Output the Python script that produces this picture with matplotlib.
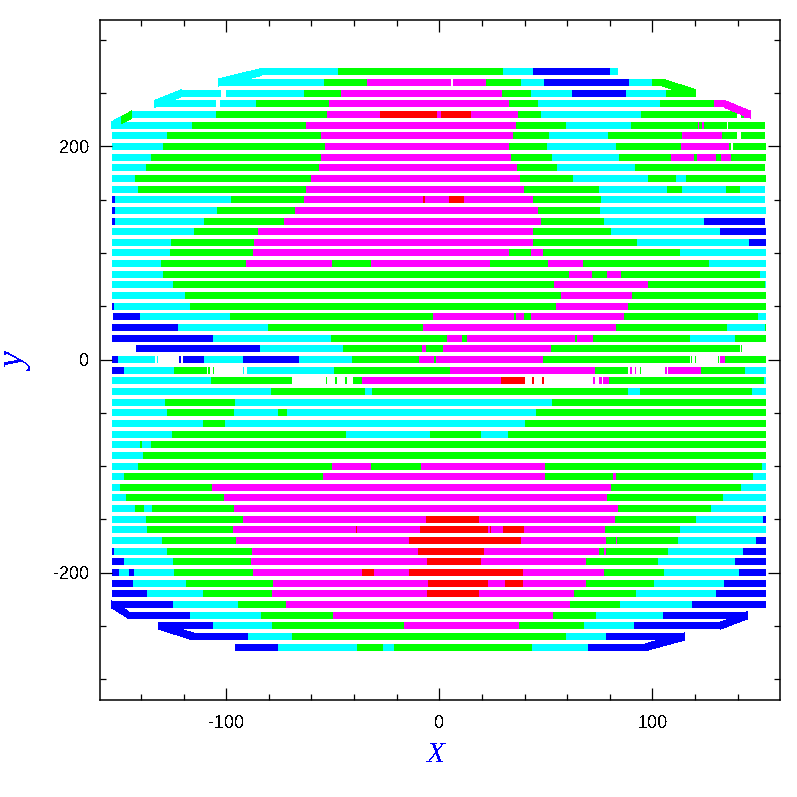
import matplotlib
matplotlib.use('Agg')
from matplotlib import pyplot as plt
from matplotlib.ticker import MultipleLocator

plt.rcParams['axes.unicode_minus'] = False
plt.rcParams['text.antialiased'] = False

# one entry per scan row, top to bottom
row_y = [270, 260, 250, 240, 230, 220, 210, 200, 190, 180, 170, 160, 150, 140,
         130, 120, 110, 100, 90, 80, 70, 60, 50, 40, 30, 20, 10, 0,
         -10, -20, -30, -40, -50, -60, -70, -80, -90, -100, -110, -120, -130, -140,
         -150, -160, -170, -180, -190, -200, -210, -220, -230, -240, -250, -260, -270]

# colour letters per stretch, w = nothing measured
row_colors = [
    "cgcbc", "cgmwmgcbcg", "cwcgmgcbcg", "gcwcgmgcgm", "cgmrmrmgcgwgm",
    "cgmgcgmgmgwg", "cgmgcgmgwg", "cgmgcgmgwg", "cgmgcgmgmgmg", "cgmgcg",
    "cgmgcgcg", "cgmgcgcgc", "bcgmrmrmgc", "bcgmgc", "bcgmgcb",
    "cgmgcb", "cgmgcb", "cgmgmgc", "cgmgmgmgc", "cgmgmgc",
    "cgmgc", "cgmg", "bcgmg", "bcgmgmgmgc", "bcgmgcg",
    "bcgmgmgmgcg", "bcgmgmgwg", "bcwcwbwbcbcgmgmgwgwgwgwmg",
    "bcgwgwgwcwcgmgwmwmwgwmwmgc", "cgwgwgwgwgmrwrwrwmwmwmgc",
    "cgcgcgc", "cgcg", "cgcgcg", "cgcg", "cgcgcg", "cgcg", "cg",
    "cgmgmgc", "cgmgmgc", "cgmgc", "cgmgc", "cgcgmgc",
    "cgmrmgcb", "cgmrmrmrmrmgc", "cgmrmgmgcb", "bcgmrmgmgcb", "bcgmrmgcb",
    "bcbcgmrmrmgcb", "bcgmrmrmgcb", "bcgmrmgcb", "bcgmgcb", "bcgmgcb",
    "bcgmgcb", "bcgcb", "bcgcgcb",
]

# x limits of those stretches
row_edges = [
    [-82.8, -47.0, 30.5, 44.6, 80.7, 84.5],
    [-103.1, -53.5, -33.3, 6.1, 7.0, 22.5, 39.0, 49.8, 89.7, 100.5, 105.2],
    [-120.4, -101.9, -99.5, -62.9, -45.6, 30.0, 43.7, 62.9, 88.3, 107.0, 121.1],
    [-133.3, -132.9, -104.2, -102.4, -85.5, -51.2, 33.3, 46.9, 104.2, 129.6, 134.3],
    [-143.7, -104.2, -52.1, -27.2, -0.5, 1.4, 15.5, 37.5, 48.3, 95.3, 140.3, 142.2, 143.7, 146.5],
    [-153.1, -115.5, -62.0, 36.6, 60.1, 90.6, 122.1, 122.5, 123.9, 124.8, 135.7, 136.1, 153.5],
    [-153.1, -127.2, -54.9, 35.2, 52.1, 79.8, 114.5, 133.3, 140.3, 142.2, 153.5],
    [-153.1, -129.0, -53.1, 33.3, 51.1, 83.5, 114.0, 136.6, 137.5, 138.5, 153.9],
    [-153.1, -134.8, -54.9, 34.2, 53.5, 84.9, 109.3, 120.1, 121.6, 130.5, 132.8, 137.5, 153.9],
    [-153.1, -137.1, -55.9, 37.0, 55.8, 92.4, 153.5],
    [-153.1, -142.3, -59.6, 38.5, 63.3, 98.5, 111.7, 116.4, 153.9],
    [-153.1, -140.9, -62.0, 40.3, 75.5, 107.5, 114.5, 135.2, 141.7, 153.5],
    [-153.1, -151.7, -97.2, -62.9, -7.1, -6.1, 5.1, 12.2, 44.6, 76.5, 153.5],
    [-153.1, -151.7, -103.8, -67.2, 46.9, 76.0, 153.9],
    [-153.1, -151.7, -109.9, -72.3, 48.3, 77.9, 124.8, 153.5],
    [-153.1, -114.6, -84.5, 44.6, 81.2, 132.4, 153.9],
    [-153.1, -125.4, -86.4, 44.6, 93.4, 146.0, 153.9],
    [-153.1, -125.8, -86.9, 33.3, 43.7, 49.3, 113.6, 153.9],
    [-153.1, -130.1, -90.2, -49.8, -31.5, 24.4, 51.6, 68.0, 127.2, 153.9],
    [-153.1, -129.1, 61.5, 72.3, 79.3, 85.9, 151.1, 153.9],
    [-153.1, -124.4, 54.4, 98.5, 153.5, 153.9],
    [-153.1, -118.8, 57.7, 91.0, 153.9],
    [-153.1, -152.1, -116.4, 55.4, 89.2, 153.9],
    [-152.6, -139.9, -97.7, -2.4, 35.6, 36.6, 40.3, 43.7, 87.3, 150.2, 153.9],
    [-153.1, -122.1, -79.8, -7.1, 83.5, 135.6, 153.5, 153.9],
    [-153.1, -105.6, -50.2, 4.2, 11.2, 13.6, 64.3, 65.2, 72.7, 118.3, 139.4, 153.9],
    [-141.8, -83.6, -44.6, -7.5, -5.7, 2.3, 53.0, 141.7, 142.2, 142.7],
    [-153.1, -150.2, -132.9, -131.9, -131.5, -121.6, -120.7, -119.7, -109.9, -91.6, -65.3, -40.4,
     -8.9, -1.9, -1.0, 49.3, 118.3, 118.8, 119.2, 120.6, 121.1, 131.5, 131.9, 132.4, 134.7, 153.9],
    [-153.1, -147.4, -124.0, -108.5, -108.0, -107.1, -105.6, -105.2, -91.6, -91.1, -89.7, -48.8, 5.6,
     73.7, 89.2, 90.1, 91.1, 92.4, 92.9, 94.8, 95.3, 106.6, 107.5, 108.0, 123.4, 144.1, 153.9],
    [-153.1, -106.6, -68.6, -52.6, -52.1, -48.4, -47.4, -43.7, -42.7, -39.9, -35.7, 29.5, 40.8,
     44.1, 45.0, 48.8, 49.7, 72.7, 73.7, 75.5, 77.0, 77.4, 80.2, 153.0, 153.9],
    [-153.1, -78.4, -34.3, -31.0, 89.2, 94.8, 147.4, 153.9],
    [-153.1, -128.2, -95.3, 53.5, 153.9],
    [-153.1, -127.2, -95.8, -75.1, -70.9, 46.0, 153.9],
    [-153.1, -110.3, -100.0, 40.8, 153.9],
    [-153.1, -124.9, -43.2, -3.8, 20.1, 32.8, 153.9],
    [-153.1, -139.9, -139.0, -134.8, 153.9],
    [-153.1, -138.5, 153.9],
    [-153.1, -140.9, -49.8, -31.5, -8.0, 50.2, 152.1, 153.9],
    [-153.1, -147.4, -54.0, 50.2, 82.1, 83.5, 147.8, 153.9],
    [-153.1, -149.3, -106.1, 81.2, 142.2, 153.9],
    [-153.1, -146.5, -100.5, 79.3, 133.8, 153.9],
    [-153.1, -142.3, -138.0, -134.3, -95.8, 84.5, 128.1, 153.9],
    [-153.1, -137.1, -91.6, -5.7, 19.2, 83.1, 121.1, 152.5, 153.9],
    [-153.1, -136.6, -96.3, -38.5, -38.0, -8.5, 23.4, 24.4, 24.8, 30.5, 40.3, 78.4, 113.6, 153.9],
    [-153.1, -129.6, -94.9, -13.6, 38.9, 78.8, 83.5, 84.0, 112.6, 149.2, 153.9],
    [-153.1, -152.1, -127.2, -87.3, -9.4, 21.6, 75.5, 77.9, 78.8, 107.9, 143.2, 153.9],
    [-153.1, -147.4, -124.4, -87.8, -5.2, 20.1, 69.4, 103.2, 139.4, 153.9],
    [-153.1, -149.8, -145.1, -142.7, -124.0, -86.9, -35.7, -30.1, -13.6, 39.9, 77.9, 106.1, 141.3, 153.9],
    [-153.1, -143.2, -118.3, -77.5, -4.7, 23.4, 31.4, 39.9, 69.4, 101.4, 134.3, 153.9],
    [-153.1, -136.6, -110.3, -77.9, -5.2, 19.2, 63.8, 92.9, 130.5, 153.9],
    [-153.1, -124.4, -93.9, -71.4, 61.9, 85.4, 119.2, 153.9],
    [-145.1, -116.4, -83.1, -49.3, 53.9, 74.1, 105.6, 145.5],
    [-131.0, -105.6, -77.9, -16.0, 38.0, 68.5, 92.0, 132.4],
    [-115.0, -89.2, -68.6, 60.1, 78.8, 115.9],
    [-95.3, -75.1, -38.0, -25.8, -20.7, 44.1, 70.4, 97.6],
]

# slanted pieces joining row ends
link_x1 = [-103.1, -132.9, -153.1, -148.4, 105.2, 134.3, -153.1, 132.4, -131.0, 97.6]
link_y1 = [260, 240, 220, 225, 260, 240, -230, -250, -250, -270]
link_x2 = [-82.8, -120.4, -148.4, -143.7, 121.1, 146.5, -145.1, 145.5, -115.0, 115.9]
link_y2 = [270, 250, 225, 230, 250, 230, -240, -240, -260, -260]
link_colors = "cccggmbbbb"

palette = {'c': '#00ffff', 'g': '#00ff00', 'm': '#ff00ff', 'r': '#ff0000', 'b': '#0000ff'}

HALF = 3.3      # half the row thickness
X_SHIFT = -0.6  # x values were read with zero a little off

fig = plt.figure(figsize=(7.97, 7.97), dpi=100)
ax = fig.add_axes([99.5 / 797, 97.5 / 797, 680 / 797, 680 / 797])

for y, edges, colors in zip(row_y, row_edges, row_colors):
    for i, c in enumerate(colors):
        if c == 'w':
            continue
        ax.barh(y, edges[i + 1] - edges[i], left=edges[i] + X_SHIFT, height=2 * HALF,
                color=palette[c], linewidth=0, antialiased=False)

for x1, y1, x2, y2, c in zip(link_x1, link_y1, link_x2, link_y2, link_colors):
    ax.fill([x1 + X_SHIFT, x1 + X_SHIFT, x2 + X_SHIFT, x2 + X_SHIFT],
            [y1 - HALF, y1 + HALF, y2 + HALF, y2 - HALF],
            color=palette[c], linewidth=0, antialiased=False)

ax.set_xlim(-159.5, 159.7)
ax.set_ylim(-319.2, 319.2)

ax.xaxis.set_major_locator(MultipleLocator(100))
ax.xaxis.set_minor_locator(MultipleLocator(20))
ax.yaxis.set_major_locator(MultipleLocator(200))
ax.yaxis.set_minor_locator(MultipleLocator(50))
ax.tick_params(which='both', direction='in', top=True, right=True, width=0.9)
ax.tick_params(which='major', length=8.6)
ax.tick_params(which='minor', length=4.3)
ax.tick_params(axis='x', which='major', pad=11.5)
ax.tick_params(axis='y', which='major', pad=7)
for label in ax.get_xticklabels() + ax.get_yticklabels():
    label.set_family('Liberation Sans')
    label.set_fontsize(13)
for spine in ax.spines.values():
    spine.set_linewidth(1.1)

fig.text(436 / 797, 1 - 755 / 797, 'X', color='#0000ff', family='Liberation Serif',
         style='italic', fontsize=21, ha='center', va='center')
fig.text(17 / 797, 1 - 362 / 797, 'y', color='#0000ff', family='Liberation Serif',
         style='italic', fontsize=27, rotation=90, ha='center', va='center')

fig.savefig('out.png', dpi=100)
